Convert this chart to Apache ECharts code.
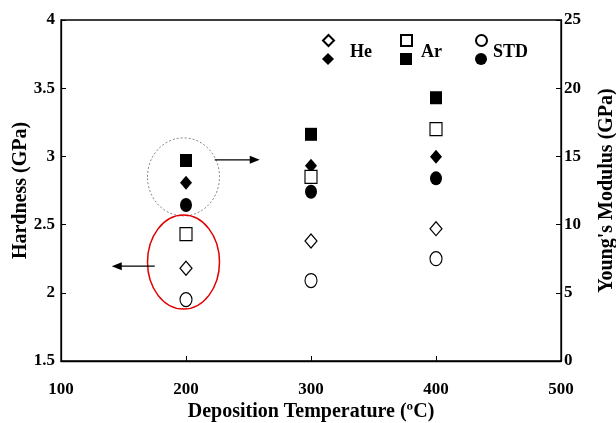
<!DOCTYPE html>
<html lang="en">
<head>
    <meta charset="UTF-8" />
    <title>Hardness and Young's Modulus</title>
    <script src="https://cdn.jsdelivr.net/npm/echarts@6/dist/echarts.min.js"></script>
    <style type="text/css">
        html, body { margin: 0; padding: 0; background: #fff; }
        #chart { width: 616px; height: 423px; }
    </style>
</head>
<body>
    <div id="chart"></div>
    <script type="text/javascript">
        // deposition temperatures (ºC)
        var temps = [200, 300, 400];
        // hardness (GPa) - left axis, hollow symbols
        var hardHe = [2.18, 2.38, 2.47];
        var hardAr = [2.43, 2.85, 3.20];
        var hardStd = [1.95, 2.09, 2.25];
        // Young's modulus (GPa) - right axis, filled symbols
        var modHe = [13.07, 14.32, 14.98];
        var modAr = [14.7, 16.62, 19.3];
        var modStd = [11.44, 12.41, 13.39];
        var gases = ['He', 'Ar', 'STD'];

        var font = "'Liberation Serif', 'Times New Roman', serif";

        function pairs(xs, ys) {
            var out = [];
            for (var i = 0; i < xs.length; i++) out.push([xs[i], ys[i]]);
            return out;
        }

        function hollow(name, symbol, size, vals) {
            return {
                name: name, type: 'scatter', yAxisIndex: 0,
                symbol: symbol, symbolSize: size,
                itemStyle: { color: '#fff', borderColor: '#000', borderWidth: 1.2, opacity: 1 },
                data: pairs(temps, vals)
            };
        }
        function filled(name, symbol, size, vals) {
            return {
                name: name, type: 'scatter', yAxisIndex: 1,
                symbol: symbol, symbolSize: size,
                itemStyle: { color: '#000', opacity: 1 },
                data: pairs(temps, vals)
            };
        }

        // one legend per item so hollow/filled pairs line up in columns;
        // the label sits between the two icons, on its own icon-less row
        var legendX = [322, 400, 475];
        var textGap = [12, 5, 2];
        var legends = [];
        gases.forEach(function (g, i) {
            legends.push({
                data: [g + '-H'], left: legendX[i], top: 34, padding: 0,
                itemWidth: 11, itemHeight: 11, selectedMode: false,
                formatter: function () { return ''; }
            });
            legends.push({
                data: [g + '-E'], left: legendX[i], top: 53, padding: 0,
                itemWidth: 12, itemHeight: 12, selectedMode: false,
                formatter: function () { return ''; }
            });
            legends.push({
                data: [g + '-E'], left: legendX[i], top: 43, padding: 0,
                itemWidth: 11, itemHeight: 11, selectedMode: false,
                itemStyle: { opacity: 0 },
                formatter: g,
                textStyle: {
                    fontFamily: font, fontWeight: 'bold', fontSize: 18, color: '#000',
                    padding: [0, 0, 0, textGap[i]]
                }
            });
        });

        var axisLabel = { fontFamily: font, fontWeight: 'bold', fontSize: 17, color: '#000' };
        var axisName = { fontFamily: font, fontWeight: 'bold', fontSize: 20, color: '#000' };
        var line = { show: true, lineStyle: { color: '#000', width: 1.3 } };

        var chart = echarts.init(document.getElementById('chart'));
        var option = {
            backgroundColor: '#fff',
            animation: false,
            legend: legends,
            grid: {
                left: 61, right: 55, top: 20, bottom: 62,
                containLabel: false, outerBoundsMode: 'none',
                show: true, borderColor: '#000', borderWidth: 1.3, backgroundColor: 'transparent'
            },
            xAxis: {
                type: 'value', min: 100, max: 500, interval: 100,
                name: 'Deposition Temperature (ºC)', nameLocation: 'middle', nameGap: 41,
                nameMoveOverlap: false,
                nameTextStyle: axisName,
                axisLine: line,
                axisTick: { show: true, inside: true, length: 5, lineStyle: { color: '#000' } },
                axisLabel: Object.assign({ margin: 20 }, axisLabel),
                splitLine: { show: false }
            },
            yAxis: [{
                type: 'value', min: 1.5, max: 4, interval: 0.5, position: 'left',
                name: 'Hardness (GPa)', nameLocation: 'middle', nameGap: 30, nameRotate: 90,
                nameMoveOverlap: false,
                nameTextStyle: axisName,
                axisLine: line,
                axisTick: { show: true, inside: true, length: 5, lineStyle: { color: '#000' } },
                axisLabel: Object.assign({ margin: 6 }, axisLabel),
                splitLine: { show: false }
            }, {
                type: 'value', min: 0, max: 25, interval: 5, position: 'right',
                name: "Young's Modulus (GPa)", nameLocation: 'middle', nameGap: 36, nameRotate: 90,
                nameMoveOverlap: false,
                nameTextStyle: axisName,
                axisLine: line,
                axisTick: { show: true, inside: true, length: 5, lineStyle: { color: '#000' } },
                axisLabel: Object.assign({ margin: 3 }, axisLabel),
                splitLine: { show: false }
            }],
            series: [
                filled('He-E', 'diamond', [12, 14], modHe),
                hollow('He-H', 'diamond', [12, 14], hardHe),
                hollow('Ar-H', 'rect', [12, 13], hardAr),
                hollow('STD-H', 'circle', [12, 14], hardStd),
                filled('Ar-E', 'rect', [12, 13], modAr),
                filled('STD-E', 'circle', [12, 14], modStd)
            ]
        };
        chart.setOption(option);

        // annotation ellipses and arrows, anchored in data space
        var cGray = chart.convertToPixel({ xAxisIndex: 0, yAxisIndex: 1 }, [198, 13.5]);
        var cRed = chart.convertToPixel({ xAxisIndex: 0, yAxisIndex: 0 }, [198, 2.225]);
        var aRight = chart.convertToPixel({ xAxisIndex: 0, yAxisIndex: 1 }, [223, 14.75]);
        var aLeft = chart.convertToPixel({ xAxisIndex: 0, yAxisIndex: 0 }, [175, 2.195]);

        function arrow(x1, y, x2) {
            var dir = x2 > x1 ? 1 : -1;
            return [{
                type: 'line', shape: { x1: x1, y1: y, x2: x2 - dir * 8, y2: y },
                style: { stroke: '#000', lineWidth: 1.3 }
            }, {
                type: 'polygon', shape: { points: [[x2, y], [x2 - dir * 10, y - 4], [x2 - dir * 10, y + 4]] },
                style: { fill: '#000' }
            }];
        }

        chart.setOption({
            graphic: [{
                type: 'ellipse', shape: { cx: cGray[0], cy: cGray[1], rx: 36, ry: 39 },
                style: { fill: 'none', stroke: '#888', lineWidth: 1, lineDash: [2, 2] }
            }, {
                type: 'ellipse', shape: { cx: cRed[0], cy: cRed[1], rx: 36, ry: 47 },
                style: { fill: 'none', stroke: '#e00000', lineWidth: 1.5 }
            }].concat(arrow(aRight[0], aRight[1], aRight[0] + 45), arrow(aLeft[0], aLeft[1], aLeft[0] - 43))
        });
    </script>
</body>
</html>
